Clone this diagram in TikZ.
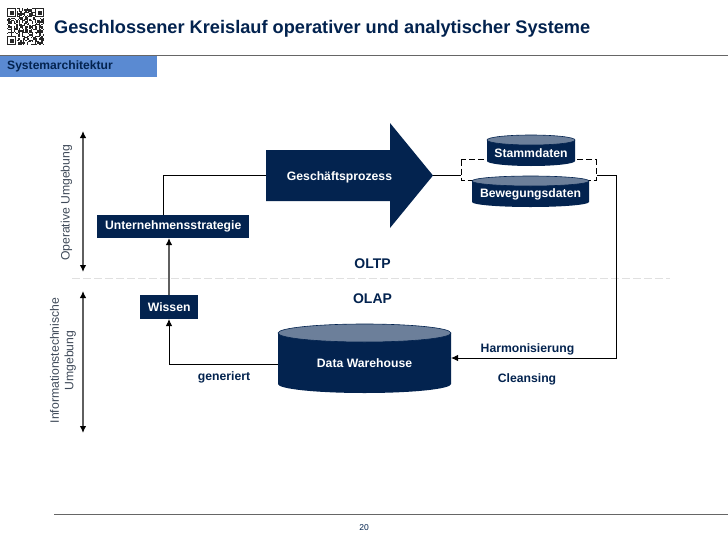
\documentclass[tikz,border=0pt]{standalone}
\usepackage{fontspec}
\setmainfont{Liberation Sans}
\usetikzlibrary{arrows.meta,calc}
\definecolor{navy}{HTML}{03234F}
\definecolor{capc}{HTML}{6C7F9A}
\definecolor{barblue}{HTML}{5A8AD2}
\definecolor{txtgrey}{HTML}{3F4A59}
\definecolor{linegrey}{HTML}{5F5F5F}
\tikzset{
  box/.style={fill=navy,text=white,font=\fontsize{12.2}{14}\selectfont\bfseries,inner sep=0pt,anchor=north west},
  lab/.style={text=navy,font=\fontsize{12.2}{14}\selectfont\bfseries,inner sep=0pt},
  biglab/.style={text=navy,font=\fontsize{14}{16}\selectfont\bfseries,inner sep=0pt},
  side/.style={text=txtgrey,font=\fontsize{12.2}{14.5}\selectfont,inner sep=0pt,rotate=90,align=center},
  conn/.style={line width=1pt,black},
  garrow/.style={line width=1.3pt,linegrey,-{Latex[length=7pt,width=6.5pt,black]}},
  darrow/.style={line width=1.3pt,linegrey,{Latex[length=7pt,width=6.5pt,black]}-{Latex[length=7pt,width=6.5pt,black]}},
}
% name, x1, y1, x2, y2, ry, text
\newcommand{\dbcyl}[7]{%
  \fill[navy] (#2,#3+#6) -- (#4,#3+#6) -- (#4,#5-#6) arc[start angle=0,end angle=180,x radius={(#4-#2)/2},y radius=#6] -- cycle;
  \fill[capc,draw=navy,line width=0.6pt] ({(#2+#4)/2},#3+#6) ellipse[x radius={(#4-#2)/2},y radius=#6];
  \node[inner sep=0pt,minimum width={(#4-#2)*1pt},minimum height={(#5-#3)*1pt},text=white,font=\fontsize{12.2}{14}\selectfont\bfseries] (#1) at ({(#2+#4)/2},{(#3+#5)/2+#6/2}) {#7};
}
\begin{document}
\begin{tikzpicture}[x=1pt,y=-1pt]
\useasboundingbox (0,0) rectangle (728,546);
\fill[white] (0,0) rectangle (728,546);
% QR code
\pgfmathsetseed{20}
\foreach \i in {0,...,27}{\foreach \j in {0,...,27}{%
  \pgfmathparse{rnd<0.5?1:0}
  \ifnum\pgfmathresult=1 \fill[black!85] ({7+\i*1.32},{8+\j*1.32}) rectangle +(1.32,1.32);\fi}}
\foreach \a/\b in {7/8,35/8,7/36}{%
  \fill[white] (\a-0.5,\b-0.5) rectangle +(10.5,10.5);
  \fill[black!85] (\a,\b) rectangle +(9.2,9.2);
  \fill[white] (\a+1.3,\b+1.3) rectangle +(6.6,6.6);
  \fill[black!85] (\a+2.6,\b+2.6) rectangle +(4,4);}
% header
\node[anchor=west,inner sep=0pt,text=navy,font=\fontsize{18.2}{20}\selectfont\bfseries] (title) at (54,28.5) {Geschlossener Kreislauf operativer und analytischer Systeme};
\draw[line width=1pt,black!60] (0,55) -- (728,55);
\fill[barblue] (0,56) rectangle (157,77);
\node[anchor=west,inner sep=0pt,text=navy,font=\fontsize{12.1}{14}\selectfont\bfseries] (sys) at (7,66.5) {Systemarchitektur};
% separator
\draw[black!12,line width=0.6pt,dash pattern=on 8pt off 3pt] (72,278) -- (670,278);
% environment arrows and labels
\coordinate (opT) at (83,131); \coordinate (opB) at (83,272);
\coordinate (itT) at (83,291); \coordinate (itB) at (83,433);
\draw[darrow] (opT) -- (opB);
\draw[darrow] (itT) -- (itB);
\node[side] (opl) at (66.5,203) {Operative Umgebung};
\node[side] (itl) at (63,360.5) {Informationstechnische\\Umgebung};
% process arrow
\fill[navy] (266,150) -- (390,150) -- (390,123) -- (433,175.5) -- (390,228) -- (390,201) -- (266,201) -- cycle;
\coordinate (gpL) at (266,175.5);
\coordinate (gpR) at (433,175.5);
\node[text=white,font=\fontsize{12.2}{14}\selectfont\bfseries,inner sep=0pt] (gp) at (339.5,177.5) {Geschäftsprozess};
% dashed group box
\draw[line width=1pt,dash pattern=on 6pt off 3pt,black] (461,159.5) rectangle (596,180);
\coordinate (grpL) at (461,175.5);
\coordinate (grpR) at (597,175.5);
\dbcyl{stamm}{487}{135}{575}{166}{5}{Stammdaten}
\dbcyl{beweg}{472}{176}{589}{207}{5}{Bewegungsdaten}
\dbcyl{dw}{278}{324}{451}{393}{9}{\raisebox{-1pt}{Data Warehouse}}
% boxes
\node[box,minimum width=152pt,minimum height=23pt] (us) at (97,215) {\raisebox{-1.5pt}{Unternehmensstrategie}};
\node[box,minimum width=58pt,minimum height=24pt] (wi) at (140,295) {\raisebox{-1pt}{Wissen}};
% connectors
\coordinate (usTop) at (163,215);
\draw[conn] (usTop) -- (163,175.5) -- (gpL);
\draw[conn] (gpR) -- (grpL);
\coordinate (wiT) at (169,295);
\coordinate (usB) at (169,238);
\draw[garrow] (wiT) -- (usB);
\coordinate (dwL) at (278,364);
\coordinate (wiB) at (169,319);
\draw[conn,-{Latex[length=7pt,width=6.5pt,black]}] (dwL) -- (169,364) -- (wiB);
\coordinate (dwR) at (451,358);
\draw[conn,-{Latex[length=7pt,width=6.5pt,black]}] (grpR) -- (616,175.5) -- (616,358) -- (dwR);
% labels
\node[biglab] (oltp) at (372.5,264) {OLTP};
\node[biglab] (olap) at (372.5,298.5) {OLAP};
\node[lab] (gen) at (224,377) {generiert};
\node[lab] (har) at (527.5,349) {Harmonisierung};
\node[lab] (cle) at (527,379) {Cleansing};
% footer
\draw[line width=0.8pt,black!60] (54,514) -- (728,514);
\node[inner sep=0pt,text=navy,font=\fontsize{8.5}{10}\selectfont] (pg) at (364,528) {20};
\end{tikzpicture}
\end{document}
